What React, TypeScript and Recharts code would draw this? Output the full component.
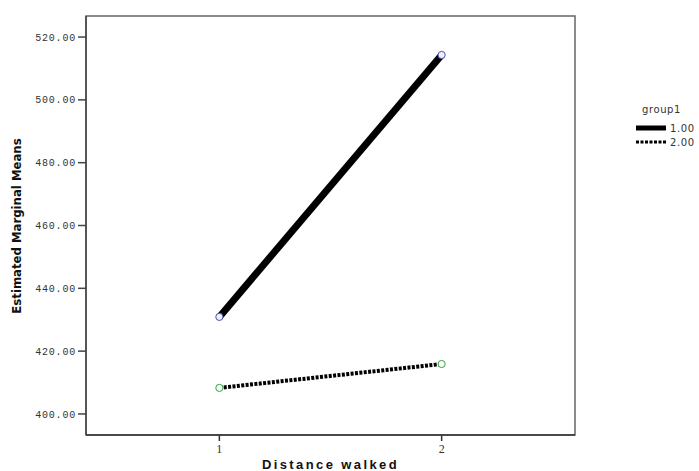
import { Legend, Line, LineChart, ReferenceArea, XAxis, YAxis } from "recharts";

const distance = [1, 2];
const group1Means = [430.9, 514.3];
const group2Means = [408.3, 415.9];
const yTicks = [400, 420, 440, 460, 480, 500, 520];
const xTicks = [1, 2];

const group1Data = distance.map((d, i) => ({ distance: d, mean: group1Means[i] }));
const group2Data = distance.map((d, i) => ({ distance: d, mean: group2Means[i] }));

const tickFont = { fontFamily: "'Liberation Mono', 'DejaVu Sans Mono', monospace", fontSize: 10, letterSpacing: 0.8, fill: "#333" };

function BlueDot(props: any) {
  const { cx, cy } = props;
  return <circle cx={cx} cy={cy} r={3.6} fill="#eef0fa" stroke="#5050a8" strokeWidth={1} />;
}

function GreenDot(props: any) {
  const { cx, cy } = props;
  return <circle cx={cx} cy={cy} r={3.6} fill="#f4fbf4" stroke="#3ea048" strokeWidth={1} />;
}

function GroupLegend({ payload }: any) {
  return (
    <div style={{ fontFamily: "'DejaVu Sans', sans-serif", fontSize: 10, color: "#333", letterSpacing: 0.6 }}>
      <div style={{ marginLeft: 6, marginBottom: 6 }}>group1</div>
      {(payload || []).map((item: any) => {
        const dotted = item.value === "2.00";
        return (
          <div key={item.value} style={{ display: "flex", alignItems: "center", height: 14 }}>
            <svg width={32} height={8}>
              <line
                x1={0}
                x2={30}
                y1={4}
                y2={4}
                stroke="#000"
                strokeWidth={dotted ? 3 : 5}
                strokeDasharray={dotted ? "3 1.5" : undefined}
              />
            </svg>
            <span style={{ marginLeft: 2 }}>{item.value}</span>
          </div>
        );
      })}
    </div>
  );
}

export default function App() {
  return (
    <div style={{ width: 699, height: 471, background: "#fff" }}>
      <style>{"body{margin:0}"}</style>
      <LineChart width={699} height={471} margin={{ top: 16, right: 54, left: 0, bottom: 0 }}>
        <ReferenceArea
          x1={0.4}
          x2={2.6}
          y1={393.3}
          y2={526.7}
          fill="none"
          stroke="#666"
          strokeWidth={1.5}
          fillOpacity={0}
        />
        <XAxis
          type="number"
          dataKey="distance"
          domain={[0.4, 2.6]}
          ticks={xTicks}
          allowDataOverflow
          height={36}
          stroke="#333"
          strokeWidth={1.5}
          tickSize={6}
          tickMargin={3}
          tick={{ fontFamily: "'Liberation Serif', serif", fontSize: 12, fill: "#333" }}
          label={{
            value: "Distance walked",
            position: "insideBottom",
            offset: 2,
            style: { fontFamily: "'Liberation Sans', Arial, sans-serif", fontWeight: "bold", fontSize: 13, letterSpacing: 2.4, fill: "#111" },
          }}
        />
        <YAxis
          type="number"
          domain={[393.3, 526.7]}
          ticks={yTicks}
          allowDataOverflow
          width={86}
          stroke="#444"
          strokeWidth={1.5}
          tickSize={8}
          tickMargin={2}
          tick={tickFont}
          tickFormatter={(v: number) => v.toFixed(2)}
          label={{
            content: () => (
              <text
                x={21}
                y={226}
                transform="rotate(-90 21 226)"
                textAnchor="middle"
                style={{ fontFamily: "'Liberation Sans Narrow', 'DejaVu Sans Condensed', Arial, sans-serif", fontWeight: "bold", fontSize: 13, fill: "#111" }}
              >
                Estimated Marginal Means
              </text>
            ),
          }}
        />
        <Legend
          layout="vertical"
          align="right"
          verticalAlign="top"
          wrapperStyle={{ top: 104, left: 636, width: 70 }}
          content={<GroupLegend />}
        />
        <Line
          data={group1Data}
          dataKey="mean"
          name="1.00"
          stroke="#000"
          strokeWidth={7}
          dot={<BlueDot />}
          activeDot={false}
          isAnimationActive={false}
        />
        <Line
          data={group2Data}
          dataKey="mean"
          name="2.00"
          stroke="#000"
          strokeWidth={4}
          strokeDasharray="3 1.4"
          dot={<GreenDot />}
          activeDot={false}
          isAnimationActive={false}
        />
      </LineChart>
    </div>
  );
}
